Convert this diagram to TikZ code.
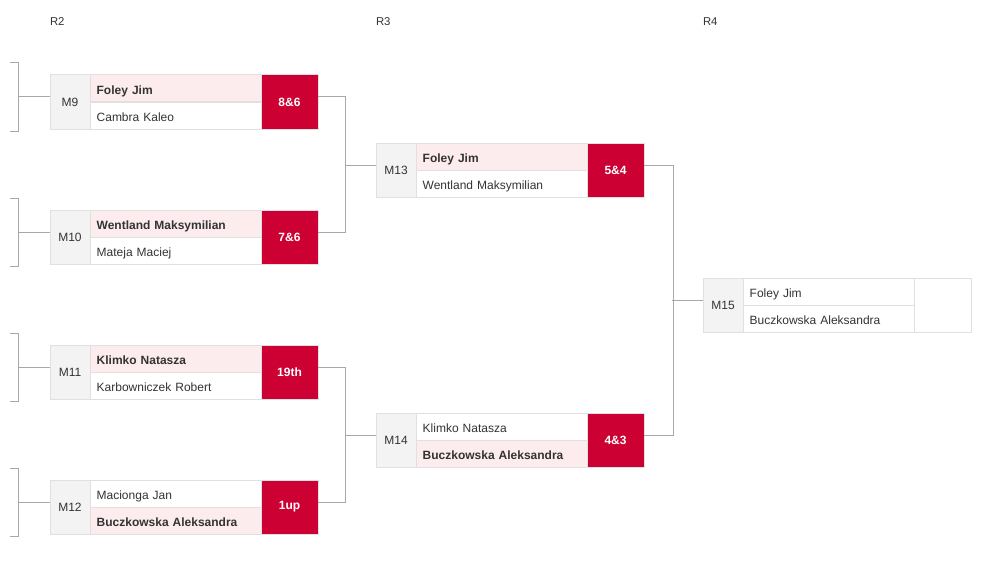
\documentclass[tikz,border=0pt]{standalone}
\usepackage{fontspec}
\setmainfont{Liberation Sans}
\usepackage{tikz}

\definecolor{crimson}{HTML}{CC0033}
\definecolor{winpink}{HTML}{FDECEE}
\definecolor{cellgray}{HTML}{F3F3F3}
\definecolor{cellline}{HTML}{E0E0E0}
\definecolor{linkgray}{HTML}{A8A8A8}
\definecolor{inkdark}{HTML}{333333}

\newcommand{\matchbox}[9]{%
  \node[lblcell] (#1) at (#2,#3) {#4};
  \node[#5, anchor=north west] (#1a) at (#1.north east) {#6};
  \node[#7, anchor=north west] (#1b) at (#1a.south west) {#8};
  \node[scorecell, anchor=north west] (#1s) at (#1a.north east) {#9};
}

\begin{document}
\begin{tikzpicture}[
    x=0.75pt, y=-0.75pt,
    every node/.style={text=inkdark, outer sep=0pt, font=\fontsize{9pt}{11pt}\selectfont},
    lblcell/.style={anchor=north west, draw=cellline, fill=cellgray, line width=0.75pt,
        minimum width=30pt, minimum height=40.5pt, inner sep=0pt},
    namecell/.style={draw=cellline, line width=0.75pt, minimum height=20.25pt,
        text width=118.25pt, text height=8.5pt, text depth=0pt,
        inner xsep=5pt, inner ysep=0pt, align=left},
    lose/.style={namecell, fill=white},
    win/.style={namecell, fill=winpink, font=\fontsize{9pt}{11pt}\selectfont\bfseries},
    scorecell/.style={draw=cellline, fill=crimson, line width=0.75pt, text=white,
        font=\fontsize{9pt}{11pt}\selectfont\bfseries,
        minimum width=42.75pt, minimum height=40.5pt, inner sep=0pt},
    emptyscore/.style={scorecell, fill=white},
    roundlbl/.style={anchor=west, inner sep=0pt, font=\fontsize{8.5pt}{10pt}\selectfont},
    link/.style={draw=linkgray, line width=0.75pt}
]
\useasboundingbox (0,0) rectangle (985,567);

\node[roundlbl] (r2) at (50,21.5) {R2};
\node[roundlbl] (r3) at (376,21.5) {R3};
\node[roundlbl] (r4) at (703,21.5) {R4};

\matchbox{m9}{50}{75}{M9}{win}{Foley Jim}{lose}{Cambra Kaleo}{8\&6}
\matchbox{m10}{50}{210}{M10}{win}{Wentland Maksymilian}{lose}{Mateja Maciej}{7\&6}
\matchbox{m11}{50}{345}{M11}{win}{Klimko Natasza}{lose}{Karbowniczek Robert}{19th}
\matchbox{m12}{50}{480}{M12}{lose}{Macionga Jan}{win}{Buczkowska Aleksandra}{1up}
\matchbox{m13}{376}{143}{M13}{win}{Foley Jim}{lose}{Wentland Maksymilian}{5\&4}
\matchbox{m14}{376}{413}{M14}{lose}{Klimko Natasza}{win}{Buczkowska Aleksandra}{4\&3}
\matchbox{m15}{703}{278}{M15}{lose}{Foley Jim}{lose}{Buczkowska Aleksandra}{}
\node[emptyscore, anchor=north west] (m15e) at (m15a.north east) {};

\foreach \m in {m9,m10,m11,m12}{
  \draw[link] ([yshift=3.75pt]\m.west) -- ++(-32,0) coordinate (\m r);
  \draw[link] (\m r) ++(-8,-34) -- ++(8,0) -- ++(0,68) -- ++(-8,0);
}

\draw[link] ([yshift=3.75pt]m9s.east) -- ++(27,0) |- ([yshift=3.75pt]m10s.east);
\draw[link] ([yshift=3.75pt]m13.west) -- ++(-31,0);
\draw[link] ([yshift=3.75pt]m11s.east) -- ++(27,0) |- ([yshift=3.75pt]m12s.east);
\draw[link] ([yshift=3.75pt]m14.west) -- ++(-31,0);
\draw[link] ([yshift=3.75pt]m13s.east) -- ++(29,0) |- ([yshift=3.75pt]m14s.east);
\draw[link] ([yshift=3.75pt]m15.west) -- ++(-31,0);
\end{tikzpicture}
\end{document}
